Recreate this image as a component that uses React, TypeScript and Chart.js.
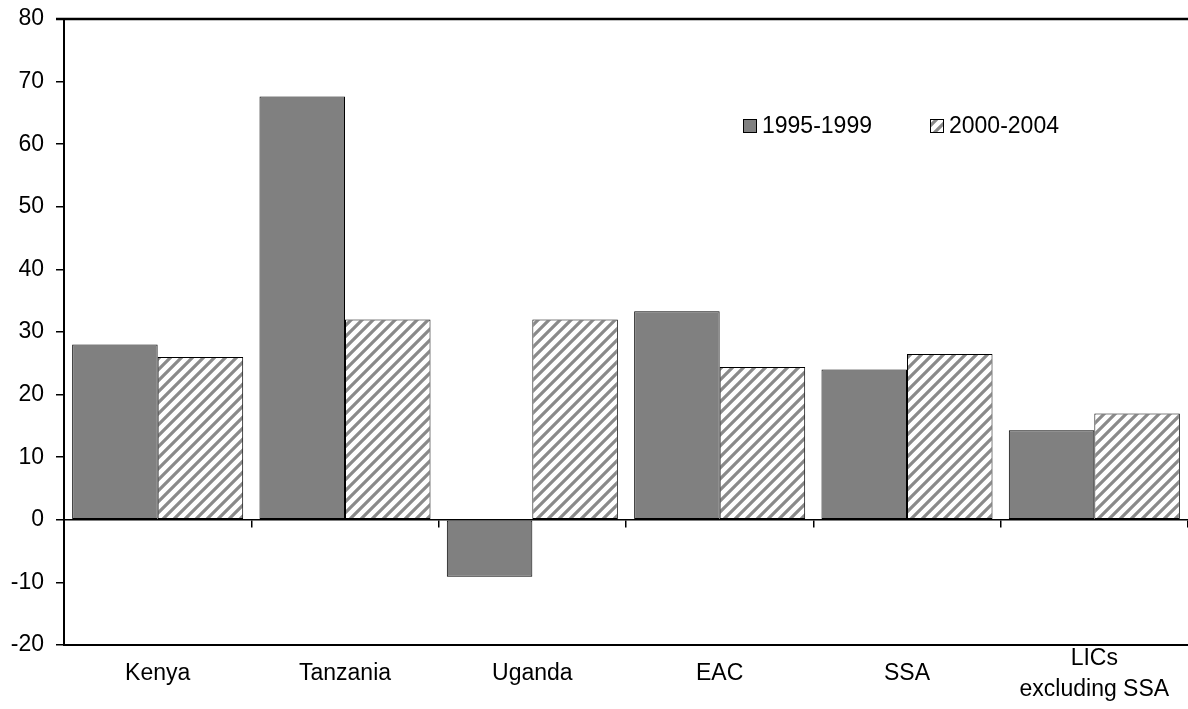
import React, { useEffect, useRef } from 'react';
import { Chart, registerables } from 'chart.js';

Chart.register(...registerables);

const categories: (string | string[])[] = ['Kenya', 'Tanzania', 'Uganda', 'EAC', 'SSA', ['LICs', 'excluding SSA']];
const seriesLabels = ['1995-1999', '2000-2004'];
const values1995 = [28.0, 67.6, -9.1, 33.3, 24.0, 14.3];
const values2000 = [26.0, 32.0, 32.0, 24.4, 26.5, 17.0];
const yMin = -20;
const yMax = 80;
const yStep = 10;

const FONT = '"Liberation Sans", Arial, sans-serif';

function makeHatch(ctx: CanvasRenderingContext2D): CanvasPattern | string {
  const size = 11;
  const c = document.createElement('canvas');
  c.width = size;
  c.height = size;
  const g = c.getContext('2d');
  if (!g) return '#ffffff';
  g.fillStyle = '#ffffff';
  g.fillRect(0, 0, size, size);
  g.strokeStyle = '#8a8a8a';
  g.lineWidth = 3.2;
  g.beginPath();
  g.moveTo(-1, size + 1);
  g.lineTo(size + 1, -1);
  g.moveTo(-2, 2);
  g.lineTo(2, -2);
  g.moveTo(size - 2, size + 2);
  g.lineTo(size + 2, size - 2);
  g.stroke();
  return ctx.createPattern(c, 'repeat') || '#ffffff';
}

const frameLabelsLegend = {
  id: 'frameLabelsLegend',
  afterDraw(chart: any) {
    const { ctx, chartArea } = chart;
    ctx.save();
    // top frame line
    ctx.strokeStyle = '#000';
    ctx.lineWidth = 2.5;
    ctx.beginPath();
    ctx.moveTo(chartArea.left - 8, chartArea.top);
    ctx.lineTo(chartArea.right, chartArea.top);
    ctx.stroke();

    // category labels, vertically centred in the band below the axis
    const xs = chart.scales.x;
    const lineH = 31;
    const bandCenter = xs.top + 29;
    ctx.font = `23px ${FONT}`;
    ctx.fillStyle = '#000';
    ctx.textAlign = 'center';
    ctx.textBaseline = 'middle';
    categories.forEach((cat, i) => {
      const lines = Array.isArray(cat) ? cat : [cat];
      const px = xs.getPixelForValue(i);
      const startY = bandCenter - ((lines.length - 1) * lineH) / 2;
      lines.forEach((ln, j) => ctx.fillText(ln, px, startY + j * lineH));
    });

    // legend
    const legendY = 126;
    const legendXs = [743, 930];
    ctx.textAlign = 'left';
    chart.data.datasets.forEach((ds: any, i: number) => {
      const x = legendXs[i];
      ctx.fillStyle = ds.backgroundColor;
      ctx.fillRect(x, legendY - 7, 14, 14);
      ctx.strokeStyle = '#000';
      ctx.lineWidth = 1;
      ctx.strokeRect(x + 0.5, legendY - 6.5, 13, 13);
      ctx.fillStyle = '#000';
      ctx.fillText(ds.label, x + 19, legendY + 1);
    });
    ctx.restore();
  },
};

export default function App() {
  const ref = useRef<HTMLCanvasElement | null>(null);

  useEffect(() => {
    const canvas = ref.current;
    if (!canvas) return;
    const ctx = canvas.getContext('2d');
    if (!ctx) return;
    const hatch = makeHatch(ctx);

    const chart = new Chart(ctx, {
      type: 'bar',
      data: {
        labels: categories as any,
        datasets: [
          {
            label: seriesLabels[0],
            data: values1995,
            backgroundColor: '#808080',
            borderColor: '#000',
            borderWidth: 1,
            borderSkipped: false,
            categoryPercentage: 0.913,
            barPercentage: 1.0,
          },
          {
            label: seriesLabels[1],
            data: values2000,
            backgroundColor: hatch as any,
            borderColor: '#000',
            borderWidth: 1,
            borderSkipped: false,
            categoryPercentage: 0.913,
            barPercentage: 1.0,
          },
        ],
      },
      options: {
        responsive: false,
        animation: false,
        devicePixelRatio: 1,
        layout: { padding: { top: 19, right: 0, left: 0, bottom: 0 } },
        plugins: {
          legend: { display: false },
          tooltip: { enabled: false },
          title: { display: false },
        },
        scales: {
          x: {
            type: 'category',
            position: 'bottom',
            offset: true,
            grid: { display: false, drawTicks: false, drawOnChartArea: false },
            border: { display: true, color: '#000', width: 2 },
            ticks: { display: false },
            afterFit: (s: any) => {
              s.height = 64;
              s.paddingLeft = 0;
              s.paddingRight = 0;
            },
          } as any,
          x2: {
            type: 'category',
            axis: 'x',
            position: { y: 0 },
            offset: true,
            grid: {
              display: true,
              drawOnChartArea: false,
              drawTicks: true,
              tickLength: 7,
              color: '#000',
              lineWidth: 1.5,
            },
            border: { display: true, color: '#000', width: 1.5 },
            ticks: { display: false },
          } as any,
          y: {
            min: yMin,
            max: yMax,
            grid: {
              display: true,
              drawOnChartArea: false,
              drawTicks: true,
              tickLength: 8,
              color: '#000',
              lineWidth: 1.5,
            },
            border: { display: true, color: '#000', width: 2 },
            ticks: {
              stepSize: yStep,
              color: '#000',
              padding: 12,
              font: { family: FONT, size: 23 },
            },
            afterFit: (s: any) => {
              s.width = 64;
              s.paddingTop = 0;
              s.paddingBottom = 0;
            },
          },
        },
      },
      plugins: [frameLabelsLegend],
    });

    return () => {
      chart.destroy();
    };
  }, []);

  return (
    <div style={{ position: 'absolute', left: 0, top: 0, width: 1188, height: 709, background: '#fff' }}>
      <canvas ref={ref} width={1188} height={709} style={{ display: 'block', width: 1188, height: 709 }} />
    </div>
  );
}
